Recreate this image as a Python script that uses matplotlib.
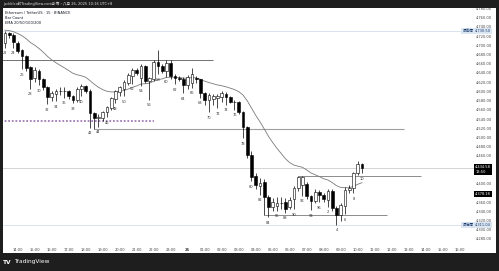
import matplotlib
matplotlib.use('Agg')
import matplotlib.pyplot as plt
from matplotlib.patches import Rectangle
import numpy as np

plt.rcParams['font.family'] = ['DejaVu Sans', 'Noto Sans CJK TC']

# ---------------- data ----------------
bar_numbers = list(range(22, 97)) + list(range(1, 11))

opens = [4706, 4726, 4723, 4706, 4689, 4676, 4652, 4630, 4644, 4626,
         4610, 4589, 4594, 4601, 4602, 4600, 4590, 4582, 4605, 4612,
         4602, 4553, 4543, 4543, 4555, 4564, 4584, 4598, 4606, 4619,
         4634, 4646, 4630, 4655, 4622, 4628, 4664, 4655, 4645, 4662,
         4634, 4630, 4628, 4614, 4618, 4630, 4626, 4597, 4582, 4583,
         4585, 4588, 4595, 4589, 4578, 4577, 4556, 4522, 4462, 4416,
         4395, 4404, 4372, 4350, 4351, 4357, 4361, 4350, 4366, 4390,
         4398, 4400, 4373, 4363, 4382, 4376, 4364, 4384, 4348, 4333,
         4352, 4386, 4390, 4422, 4442]
highs = [4730.5, 4730, 4726, 4709, 4692, 4678, 4656, 4652, 4648, 4629,
         4612, 4600, 4606, 4609, 4610, 4603, 4593, 4610, 4616, 4615,
         4605, 4556, 4550, 4558, 4568, 4588, 4604, 4612, 4624, 4640,
         4650, 4650, 4660, 4657, 4632, 4668, 4690, 4660, 4668, 4668,
         4638, 4634, 4632, 4636, 4650, 4634, 4628, 4599, 4596, 4595,
         4594, 4600, 4598, 4591, 4582, 4579, 4558, 4525, 4470, 4422,
         4412, 4410, 4376, 4368, 4372, 4370, 4368, 4370, 4394, 4416.5,
         4416, 4403, 4376, 4388, 4387, 4380, 4388, 4388, 4352, 4358,
         4392, 4396, 4425, 4450, 4445]
lows = [4695, 4716, 4695, 4684, 4648, 4645, 4606, 4620, 4614, 4604,
        4572, 4580, 4579, 4592, 4586, 4584, 4574, 4578, 4590, 4596,
        4521, 4518.4, 4523, 4536, 4544, 4560, 4575, 4591, 4590, 4615,
        4617, 4636, 4612, 4618, 4582, 4622, 4637, 4640, 4632, 4628,
        4616, 4622, 4596, 4605, 4608, 4618, 4586, 4570, 4555, 4570,
        4563, 4578, 4571, 4574, 4560, 4552, 4499, 4455, 4405, 4388,
        4376, 4332.5, 4327.5, 4340, 4341, 4345, 4337, 4345, 4344.5, 4384,
        4374, 4366, 4342, 4358, 4360, 4360, 4350, 4340, 4311.04, 4318,
        4334, 4380, 4379, 4418, 4423]
closes = [4726, 4722, 4707, 4688, 4677, 4650, 4628, 4646, 4626, 4610,
          4589, 4597, 4602, 4602, 4600, 4590, 4582, 4606, 4612, 4602,
          4553, 4543, 4545, 4556, 4566, 4585, 4600, 4609, 4621, 4636,
          4646, 4640, 4655, 4622, 4629, 4664, 4655, 4645, 4662, 4633,
          4630, 4627, 4613, 4632, 4638, 4626, 4597, 4582, 4592, 4591,
          4590, 4596, 4589, 4578, 4577, 4556, 4522, 4462, 4415, 4397,
          4401, 4372, 4350, 4360, 4358, 4358, 4346, 4365, 4390, 4414,
          4414, 4374, 4362, 4382, 4376, 4366, 4384, 4348, 4333, 4354,
          4386, 4390, 4422, 4442, 4434.58]

ema_length = 20
ema_seed = 4733

level_prices = [4667.5, 4536.4, 4518.4, 4416.5, 4332.5]
level_starts = [-1, -1, 21, 69, 61]
level_ends = [49, 35, 94, 98, 90]

time_labels = ['14:00', '15:00', '16:00', '17:00', '18:00', '19:00', '20:00',
               '21:00', '22:00', '23:00', '26', '01:00', '02:00', '03:00',
               '04:00', '05:00', '06:00', '07:00', '08:00', '09:00', '10:00',
               '11:00', '12:00', '13:00', '14:00', '15:00', '16:00']
first_hour_bar = 3
bars_per_hour = 4

price_ticks = list(range(4280, 4781, 20))
hidden_ticks = [4440, 4420, 4380]   # covered by the price / EMA tags
high_price = 4730.50
low_price = 4311.04
last_price = 4434.58
countdown = '13:50'
ema_tag = 4378.18

# ---------------- figure ----------------
W, H = 499, 271
fig = plt.figure(figsize=(W / 100, H / 100), dpi=100)
dark = '#1e1e1e'
fig.patch.set_facecolor(dark)
fig.add_artist(Rectangle((3 / W, 18 / H), 493 / W, 245 / H, transform=fig.transFigure,
                         facecolor='white', edgecolor='none', zorder=-2))

ax = fig.add_axes([3 / W, 27 / H, 471 / W, 236 / H])
ax.patch.set_alpha(0)
for s in ax.spines.values():
    s.set_visible(False)

n = len(closes)
x = np.arange(n)
o = np.array(opens, float); c = np.array(closes, float)
h = np.array(highs, float); l = np.array(lows, float)

# EMA
ema = [ema_seed]
alpha = 2 / (ema_length + 1)
for v in c[1:]:
    ema.append(ema[-1] + alpha * (v - ema[-1]))
ax.plot(x, ema, color='#7a7a7a', lw=0.6, zorder=2)

# full-width lines
ax.axhline(high_price, color='#cbd7e6', lw=0.5, zorder=1)
ax.axhline(low_price, color='#cbd7e6', lw=0.5, zorder=1)
ax.axhline(last_price, color='#c4c4c4', lw=0.5, zorder=1)

styles = [dict(color='#5c5c5c', lw=0.6, ls='-'),
          dict(color='#a27bb5', lw=1.3, ls=(0, (1, 1))),
          dict(color='#a0a0a0', lw=0.8, ls='-'),
          dict(color='#8c8c8c', lw=0.7, ls='-'),
          dict(color='#8c8c8c', lw=0.7, ls='-')]
for p, s0, e0, st in zip(level_prices, level_starts, level_ends, styles):
    ax.hlines(p, s0, e0, colors=st['color'], lw=st['lw'], linestyles=st['ls'], zorder=1)

# candles
ax.vlines(x, l, h, color='black', lw=0.5, zorder=3)
up = c >= o
body_h = np.maximum(np.abs(c - o), 0.8)
ax.bar(x, body_h, bottom=np.minimum(o, c), width=0.62,
       color=np.where(up, 'white', 'black'), edgecolor='black', linewidth=0.4, zorder=4)

# bar count labels
for xi, num, lo in zip(x, bar_numbers, l):
    if num % 2 == 0:
        ax.annotate(str(num), (xi, lo), xytext=(0, -4), textcoords='offset points',
                    ha='center', va='center', fontsize=2.6, color='#333333', zorder=5)

ax.set_xlim(-0.46, 110.36)
ax.set_ylim(4269, 4781)

# axes ticks
ax.yaxis.tick_right()
ax.set_yticks(price_ticks)
ax.set_yticklabels(['' if p in hidden_ticks else f'{p:,.2f}' for p in price_ticks])
tpos = [first_hour_bar + i * bars_per_hour for i in range(len(time_labels))]
ax.set_xticks(tpos)
ax.set_xticklabels(time_labels)
ax.tick_params(axis='both', length=0, labelsize=2.6, colors='#444444')
ax.tick_params(axis='y', pad=1.2)
ax.tick_params(axis='x', pad=2.6)
for lab in ax.get_xticklabels():
    if lab.get_text() == '26':
        lab.set_fontweight('bold')

yt = ax.get_yaxis_transform()
tagx = 1.0025
ax.annotate(f'{last_price:,.2f}\n{countdown}', (tagx, last_price), xycoords=yt,
            xytext=(0, -1.5), textcoords='offset points', ha='left', va='center',
            fontsize=2.6, color='white', linespacing=1.2, zorder=10, annotation_clip=False,
            bbox=dict(boxstyle='square,pad=0.3', fc='black', ec='none'))
ax.text(tagx, ema_tag, f'{ema_tag:,.2f}', transform=yt, ha='left', va='center',
        fontsize=2.6, color='white', zorder=10, clip_on=False,
        bbox=dict(boxstyle='square,pad=0.3', fc='black', ec='none'))
for val, name in [(high_price, '最高價'), (low_price, '最低價')]:
    ax.text(tagx, val, f'{val:,.2f}', transform=yt, ha='left', va='center',
            fontsize=2.6, color='#1d3c6e', zorder=10, clip_on=False,
            bbox=dict(boxstyle='square,pad=0.3', fc='#dbe6f3', ec='none'))
    ax.text(0.9985, val, name, transform=yt, ha='right', va='center',
            fontsize=2.6, color='#1d3c6e', zorder=10, clip_on=False,
            bbox=dict(boxstyle='square,pad=0.3', fc='#dbe6f3', ec='none'))

# legend text
fig.text(4.7 / W, 1 - 12.7 / H, 'Ethereum / TetherUS · 15 · BINANCE', fontsize=2.6,
         color='#131722', va='center')
fig.text(4.7 / W, 1 - 17.7 / H, 'Bar Count', fontsize=2.6, color='#131722', va='center')
fig.text(4.7 / W, 1 - 22.7 / H, 'EMA 20/50/100/200', fontsize=2.6, color='#131722', va='center')

# top / bottom bars
fig.add_artist(Rectangle((0, 1 - 8 / H), 1, 8 / H, transform=fig.transFigure,
                         facecolor=dark, edgecolor='none', zorder=20))
fig.add_artist(Rectangle((0, 0), 1, 18 / H, transform=fig.transFigure,
                         facecolor=dark, edgecolor='none', zorder=20))
fig.text(3.5 / W, 1 - 4 / H, 'jackklco於TradingView.com發佈，八月 26, 2025 10:16 UTC+8',
         fontsize=2.6, color='#e0e0e0', va='center', zorder=21)
fig.text(3.3 / W, 1 - 262 / H, 'TV', fontsize=4.2, color='white', va='center',
         fontweight='heavy', zorder=21)
fig.text(14.3 / W, 1 - 262 / H, 'TradingView', fontsize=4.2, color='white', va='center',
         zorder=21)

fig.savefig('out.png', dpi=100, facecolor=fig.get_facecolor())
